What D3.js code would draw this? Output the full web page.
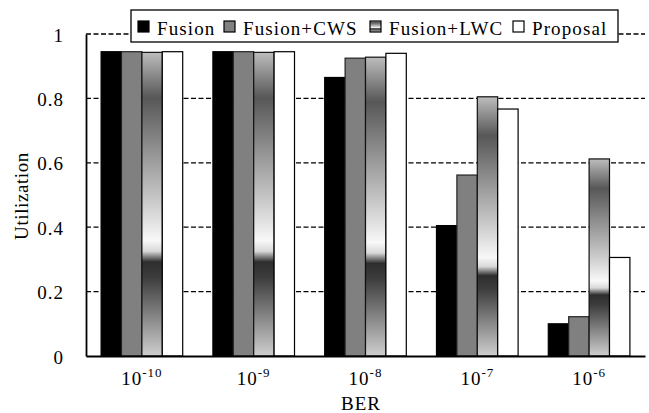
<!DOCTYPE html>
<html>
<head>
<meta charset="utf-8">
<script src="https://cdn.jsdelivr.net/npm/d3@7"></script>
<style>
  body { margin: 0; background: #fff; }
  svg.vis { display: block; }
  svg.vis text { font-family: "Liberation Serif", "Times New Roman", serif; fill: #000; }
</style>
</head>
<body>
<svg class="vis" width="649" height="413" font-family="Liberation Serif"></svg>
<script>
const categories = ['-10', '-9', '-8', '-7', '-6'];
const seriesNames = ['Fusion', 'Fusion+CWS', 'Fusion+LWC', 'Proposal'];
const fusion    = [0.945, 0.945, 0.865, 0.405, 0.100];
const fusionCWS = [0.945, 0.945, 0.925, 0.562, 0.122];
const fusionLWC = [0.943, 0.943, 0.928, 0.805, 0.612];
const proposal  = [0.945, 0.945, 0.940, 0.767, 0.306];
const yTicks = [0, 0.2, 0.4, 0.6, 0.8, 1];

const FONT = '"Liberation Serif", "Times New Roman", serif';

const v = {

    elems : {
        svg : 'svg.vis'
    },

    sizings : {
        left : 86,
        right : 645,
        top : 34,
        bottom : 356
    },

    scales : {

        x : null, xi : null, y : null,

        build : () => {
            const s = v.sizings;
            v.scales.x = d3.scaleBand()
              .domain(categories)
              .range([s.left, s.right])
              .paddingInner(0.27)
              .paddingOuter(0.135);
            v.scales.xi = d3.scaleBand()
              .domain(seriesNames)
              .range([0, v.scales.x.bandwidth()]);
            v.scales.y = d3.scaleLinear()
              .domain([0, 1])
              .range([s.bottom, s.top]);
        }
    },

    style : {
        fill : ['#000000', '#808080', 'url(#lwc)', '#ffffff'],
        stroke : ['#000000', '#222222', '#111111', '#000000']
    },

    chart : {

        defs : (svg) => {
            // banded gray gradient used by Fusion+LWC
            const g = svg.append('defs').append('linearGradient')
              .attr('id', 'lwc')
              .attr('x1', 0).attr('y1', 0).attr('x2', 0).attr('y2', 1);
            [[0, '#bdbdbd'], [0.15, '#575757'], [0.48, '#c6c6c6'], [0.62, '#f8f8f8'],
             [0.655, '#d8d8d8'], [0.69, '#2e2e2e'], [0.74, '#3c3c3c'], [1, '#cfcfcf']]
              .forEach(d => g.append('stop').attr('offset', d[0]).attr('stop-color', d[1]));
        },

        grid : (svg) => {
            const s = v.sizings;
            svg.append('g')
              .selectAll('line')
              .data(yTicks.filter(d => d > 0))
              .join('line')
              .attr('x1', s.left).attr('x2', s.right)
              .attr('y1', d => v.scales.y(d)).attr('y2', d => v.scales.y(d))
              .attr('stroke', '#000')
              .attr('stroke-width', 1.3)
              .attr('stroke-dasharray', '5,2.5');
        },

        bars : (svg) => {
            const series = [fusion, fusionCWS, fusionLWC, proposal];
            const rows = [];
            categories.forEach((c, i) => {
                seriesNames.forEach((n, j) => rows.push({ c, n, j, val : series[j][i] }));
            });
            const y = v.scales.y;
            svg.append('g')
              .selectAll('rect')
              .data(rows)
              .join('rect')
              .attr('x', d => v.scales.x(d.c) + v.scales.xi(d.n))
              .attr('width', v.scales.xi.bandwidth())
              .attr('y', d => y(d.val))
              .attr('height', d => y(0) - y(d.val))
              .attr('fill', d => v.style.fill[d.j])
              .attr('stroke', d => v.style.stroke[d.j])
              .attr('stroke-width', 1.2);
        },

        axes : (svg) => {
            const s = v.sizings;

            svg.append('g')
              .attr('transform', `translate(${s.left},0)`)
              .attr('font-family', FONT)
              .call(d3.axisLeft(v.scales.y).tickValues(yTicks).tickSize(0).tickPadding(22)
                .tickFormat(d => d === 0 || d === 1 ? d : d3.format('.1f')(d)))
              .call(g => g.select('.domain').attr('stroke', '#000').attr('stroke-width', 1.8))
              .call(g => g.selectAll('text').attr('font-size', 19).attr('fill', '#000')
                .attr('dy', '0.37em')
                .attr('font-family', FONT).attr('letter-spacing', 1));

            const xa = svg.append('g')
              .attr('transform', `translate(0,${s.bottom})`)
              .attr('font-family', FONT)
              .call(d3.axisBottom(v.scales.x).tickSize(0).tickFormat(''))
              .call(g => g.select('.domain').attr('stroke', '#000').attr('stroke-width', 2));

            const t = xa.selectAll('.tick text')
              .attr('font-size', 19).attr('fill', '#000')
              .attr('font-family', FONT)
              .attr('y', 29).attr('dy', 0)
              .attr('letter-spacing', 1);
            t.append('tspan').text('10');
            t.append('tspan').attr('font-size', 13).attr('dy', '-0.6em').text(d => d);

            svg.append('text')
              .attr('x', 361).attr('y', 410)
              .attr('text-anchor', 'middle')
              .attr('font-family', FONT)
              .attr('font-size', 19).attr('letter-spacing', 1)
              .text('BER');

            svg.append('text')
              .attr('transform', 'translate(28,196) rotate(-90)')
              .attr('text-anchor', 'middle')
              .attr('font-family', FONT)
              .attr('font-size', 19).attr('letter-spacing', 0.6)
              .text('Utilization');
        },

        legend : (svg) => {
            const lg = svg.append('g');
            lg.append('rect')
              .attr('x', 131).attr('y', 10).attr('width', 487).attr('height', 32)
              .attr('fill', '#fff').attr('stroke', '#000').attr('stroke-width', 1.3);
            const xs = [138, 224, 370, 513];
            seriesNames.forEach((n, j) => {
                lg.append('rect')
                  .attr('x', xs[j]).attr('y', 21).attr('width', 11).attr('height', 11)
                  .attr('fill', v.style.fill[j])
                  .attr('stroke', '#000').attr('stroke-width', 1.2);
                lg.append('text')
                  .attr('x', xs[j] + 19).attr('y', 35)
                  .attr('font-family', FONT)
                  .attr('font-size', 19).attr('letter-spacing', 1.1)
                  .text(n);
            });
        },

        render : () => {
            const svg = d3.select(v.elems.svg);
            v.scales.build();
            v.chart.defs(svg);
            v.chart.grid(svg);
            v.chart.bars(svg);
            v.chart.axes(svg);
            v.chart.legend(svg);
        }
    }
};

v.chart.render();
</script>
</body>
</html>
